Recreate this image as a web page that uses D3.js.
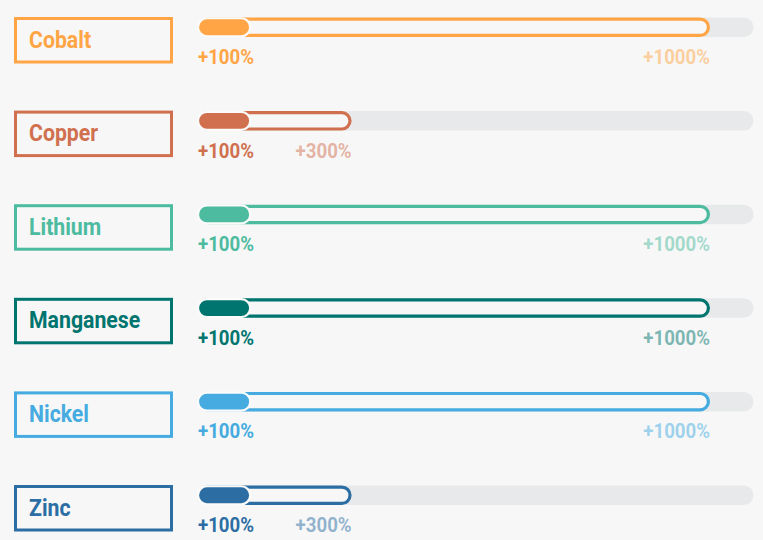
<!DOCTYPE html>
<html>
<head>
<meta charset="utf-8">
<script src="https://cdn.jsdelivr.net/npm/d3@7"></script>
<style>
  html, body { margin: 0; padding: 0; background: #f7f7f7; }
  svg { display: block; }
  text { font-family: Roboto, "Noto Sans", sans-serif; font-weight: 700; }
</style>
</head>
<body>
<svg id="chart" width="763" height="540"></svg>
<script>
const categories = ["Cobalt", "Copper", "Lithium", "Manganese", "Nickel", "Zinc"];
const baseValues = [100, 100, 100, 100, 100, 100];
const highValues = [1000, 300, 1000, 1000, 1000, 300];
const colors = ["#ffa545", "#d0704f", "#4dbb9f", "#00756f", "#45abe0", "#2c6ea3"];
const trackMax = 1085;

const W = 763, H = 540, bg = "#f7f7f7";
const svg = d3.select("#chart");
svg.append("rect").attr("width", W).attr("height", H).attr("fill", bg);

const x = d3.scaleLinear().domain([0, 1000]).range([198, 710]);
const y = d3.scalePoint().domain(categories).range([17.5, 485.5]);
const barH = 19.5;

const rows = svg.selectAll("g.row")
  .data(categories.map((c, i) => ({ c, base: baseValues[i], high: highValues[i], color: colors[i] })))
  .join("g").attr("class", "row")
  .attr("transform", d => `translate(0,${y(d.c)})`);

// label box
rows.append("rect")
  .attr("x", 15.5).attr("y", 1).attr("width", 156).attr("height", 43.5)
  .attr("fill", "none").attr("stroke", d => d.color).attr("stroke-width", 3);
rows.append("text")
  .attr("transform", "translate(29,30) scale(0.925,1)")
  .attr("font-size", 23)
  .attr("fill", d => d.color)
  .text(d => d.c);

// track
rows.append("rect")
  .attr("x", x(0)).attr("y", 0).attr("width", x(trackMax) - x(0)).attr("height", barH)
  .attr("rx", barH / 2).attr("fill", "#e8e9ea");

// outline bar to high value
rows.append("rect")
  .attr("x", x(0) + 1.6).attr("y", 1.6)
  .attr("width", d => x(d.high) - x(0) - 3.2).attr("height", barH - 3.2)
  .attr("rx", (barH - 3.2) / 2)
  .attr("fill", bg).attr("stroke", d => d.color).attr("stroke-width", 3.2);

// filled bar to base value
rows.append("rect")
  .attr("x", x(0)).attr("y", 0.75)
  .attr("width", d => x(d.base) - x(0) + 1).attr("height", barH - 1.5)
  .attr("rx", (barH - 1.5) / 2)
  .attr("fill", d => d.color).attr("stroke", "#fbfbfb").attr("stroke-width", 2.2);

// value labels
rows.append("text")
  .attr("transform", `translate(${x(0)},46.5) scale(0.91,1)`)
  .attr("font-size", 20.5)
  .attr("fill", d => d.color)
  .text(d => "+" + d.base + "%");
rows.append("text")
  .attr("transform", d => `translate(${x(d.high)},46.5) scale(0.91,1)`)
  .attr("text-anchor", "end")
  .attr("font-size", 20.5)
  .attr("fill", d => d.color).attr("fill-opacity", 0.5)
  .text(d => "+" + d.high + "%");
</script>
</body>
</html>
